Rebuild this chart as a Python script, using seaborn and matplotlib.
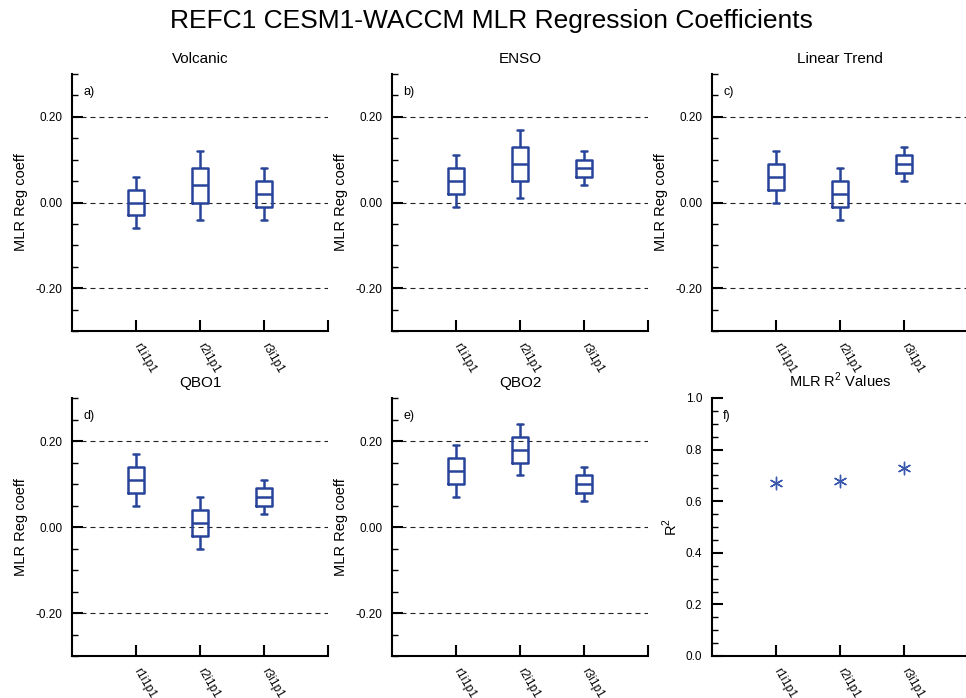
import numpy as np
import pandas as pd
import matplotlib
matplotlib.use("Agg")
import matplotlib.pyplot as plt
import seaborn as sns
from matplotlib.ticker import MultipleLocator, FixedLocator

# ---------------- data ----------------
members = ["r1i1p1", "r2i1p1", "r3i1p1"]
panel_titles = ["Volcanic", "ENSO", "Linear Trend", "QBO1", "QBO2"]
panel_letters = ["a)", "b)", "c)", "d)", "e)", "f)"]
# per member: [whisker low, Q1, median, Q3, whisker high]
volcanic = [[-0.06, -0.03, 0.00, 0.03, 0.06],
            [-0.04, 0.00, 0.04, 0.08, 0.12],
            [-0.04, -0.01, 0.02, 0.05, 0.08]]
enso = [[-0.01, 0.02, 0.05, 0.08, 0.11],
        [0.01, 0.05, 0.09, 0.13, 0.17],
        [0.04, 0.06, 0.08, 0.10, 0.12]]
trend = [[0.00, 0.03, 0.06, 0.09, 0.12],
         [-0.04, -0.01, 0.02, 0.05, 0.08],
         [0.05, 0.07, 0.09, 0.11, 0.13]]
qbo1 = [[0.05, 0.08, 0.11, 0.14, 0.17],
        [-0.05, -0.02, 0.01, 0.04, 0.07],
        [0.03, 0.05, 0.07, 0.09, 0.11]]
qbo2 = [[0.07, 0.10, 0.13, 0.16, 0.19],
        [0.12, 0.15, 0.18, 0.21, 0.24],
        [0.06, 0.08, 0.10, 0.12, 0.14]]
r2_values = [0.67, 0.68, 0.73]
coef_ticks = [-0.20, 0.00, 0.20]
coef_ticklabels = ["-0.20", "0.00", "0.20"]
r2_ticks = [0.0, 0.2, 0.4, 0.6, 0.8, 1.0]
r2_ticklabels = ["0.0", "0.2", "0.4", "0.6", "0.8", "1.0"]

# ---------------- style ----------------
sns.set_theme(style="ticks")
plt.rcParams["font.family"] = ["Liberation Sans", "DejaVu Sans"]
plt.rcParams["mathtext.fontset"] = "custom"
plt.rcParams["mathtext.rm"] = "Liberation Sans"
for key in ["text.color", "axes.labelcolor", "xtick.color", "ytick.color", "axes.edgecolor"]:
    plt.rcParams[key] = "black"
BLUE = "#28449a"
STAR = "#3a58ad"

fig = plt.figure(figsize=(9.66, 6.98), dpi=100)
W, H = 966, 698


def add_ax(left, top, right, bottom):
    return fig.add_axes([left / W, 1 - bottom / H, (right - left) / W, (bottom - top) / H])


cols = [(72, 328), (392, 648), (712, 968)]
rows = [(74, 331), (398, 656)]
positions = [(c, r) for r in rows for c in cols]


def style_axes(ax):
    for s in ["top", "right"]:
        ax.spines[s].set_visible(False)
    for s in ["left", "bottom"]:
        ax.spines[s].set_linewidth(1.5)
        ax.spines[s].set_color("black")
    ax.set_xlim(-1, 3)
    ax.xaxis.set_major_locator(FixedLocator([0, 1, 2, 3]))
    ax.set_xticklabels(members + [""])
    ax.tick_params(axis="x", which="major", direction="in", length=8, width=1.5,
                   labelsize=8.5, pad=9, color="black")
    for lbl in ax.get_xticklabels():
        lbl.set_rotation(-60)
        lbl.set_ha("left")
        lbl.set_va("center")
        lbl.set_rotation_mode("anchor")
    ax.tick_params(axis="y", which="major", direction="in", length=8, width=1.5,
                   labelsize=8.5, pad=7, color="black")
    ax.tick_params(axis="y", which="minor", direction="in", length=4, width=1.0,
                   color="black")
    ax.set_xlabel("")
    ax.grid(False)


datasets = [volcanic, enso, trend, qbo1, qbo2]
for i, (vals, title) in enumerate(zip(datasets, panel_titles)):
    (l, r), (t, b) = positions[i]
    ax = add_ax(l, t, r, b)
    df = pd.DataFrame({
        "member": np.repeat(members, 5),
        "value": np.concatenate(vals),
    })
    for y in coef_ticks:
        ax.axhline(y, color="#222222", lw=0.8, ls=(0, (4.5, 3.6)), zorder=0)
    sns.boxplot(data=df, x="member", y="value", ax=ax, whis=(0, 100), width=0.26,
                fill=False, color=BLUE, linecolor=BLUE, linewidth=1.8,
                showfliers=False, capwidths=0.09)
    style_axes(ax)
    ax.set_ylim(-0.30, 0.30)
    ax.yaxis.set_major_locator(FixedLocator(coef_ticks))
    ax.set_yticklabels(coef_ticklabels)
    ax.yaxis.set_minor_locator(MultipleLocator(0.05))
    ax.set_ylabel("MLR Reg coeff", fontsize=10.5, labelpad=5)
    ax.set_title(title, fontsize=11, pad=8)
    ax.text(0.043, 0.93, panel_letters[i], transform=ax.transAxes,
            ha="left", va="center", fontsize=9)

# panel f
(l, r), (t, b) = positions[5]
ax = add_ax(l, t, r, b)
sns.scatterplot(x=members, y=r2_values, ax=ax, marker=(6, 2, 0), s=80,
                color=STAR, linewidth=1.0)
style_axes(ax)
ax.set_ylim(0, 1.0)
ax.yaxis.set_major_locator(FixedLocator(r2_ticks))
ax.set_yticklabels(r2_ticklabels)
ax.yaxis.set_minor_locator(MultipleLocator(0.05))
ax.set_ylabel("R$^\\mathregular{2}$", fontsize=10.5, labelpad=4)
ax.set_title("MLR R$^\\mathregular{2}$ Values", fontsize=10.5, pad=8)
ax.text(0.043, 0.93, panel_letters[5], transform=ax.transAxes,
        ha="left", va="center", fontsize=9)

fig.text(491 / W, 1 - 21 / H, "REFC1 CESM1-WACCM MLR Regression Coefficients",
         ha="center", va="center", fontsize=19)

fig.savefig("out.png", dpi=100)
